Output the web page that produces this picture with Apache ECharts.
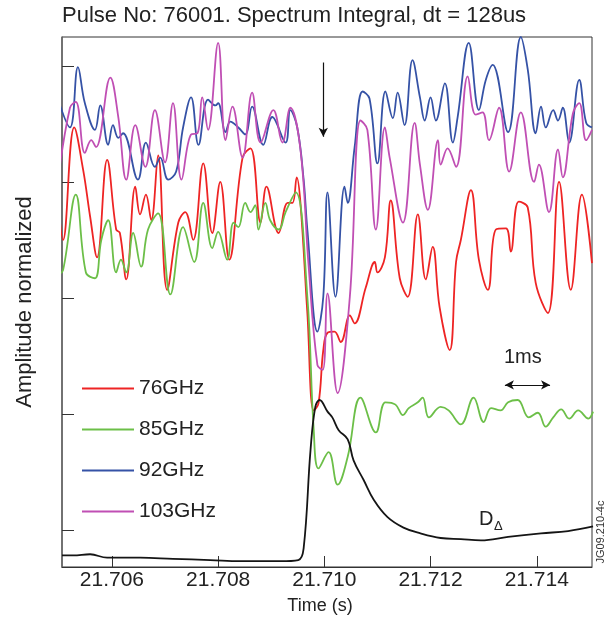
<!DOCTYPE html>
<html>
<head>
<meta charset="utf-8">
<script src="https://cdn.jsdelivr.net/npm/echarts@6/dist/echarts.min.js"></script>
<style>html,body{margin:0;padding:0;background:#fff}#c{width:611px;height:624px}</style>
</head>
<body>
<div id="c"></div>
<script>
// Time axis limits (s) and tick labels
const T0 = 21.70506;
const T1 = 21.71504;
const xTicks = [21.706, 21.708, 21.710, 21.712, 21.714];
const yTicks = [0, 1, 2, 3, 4];
const seriesNames = ['76GHz', '85GHz', '92GHz', '103GHz'];

// Each pair: [ms after T0, normalized amplitude]
const s76 = [[-0.08,2.91],[0.02,2.50],[0.23,3.47],[0.40,3.10],[0.53,2.70],[0.66,2.35],[0.85,3.19],[1.02,2.59],[1.09,2.56],[1.21,2.16],[1.38,2.96],[1.47,2.72],[1.58,2.89],[1.68,2.67],[1.81,3.23],[1.98,2.07],[2.19,2.65],[2.32,2.74],[2.47,2.50],[2.66,3.16],[2.83,2.56],[2.98,3.00],[3.15,2.33],[3.40,3.21],[3.55,3.29],[3.74,2.65],[3.85,2.96],[4.08,2.56],[4.25,2.82],[4.34,2.82],[4.42,3.04],[4.49,2.82],[4.62,1.87],[4.74,1.03],[4.83,1.09],[4.92,1.55],[5.00,1.70],[5.13,1.71],[5.25,1.62],[5.42,1.85],[5.51,1.78],[5.72,2.09],[5.89,2.31],[5.94,2.22],[6.08,2.35],[6.19,2.84],[6.36,2.17],[6.51,2.01],[6.70,2.72],[6.85,2.16],[6.98,2.44],[7.11,1.92],[7.30,1.55],[7.42,2.31],[7.51,2.50],[7.70,2.93],[7.85,2.33],[8.02,2.07],[8.17,2.59],[8.36,2.60],[8.45,2.40],[8.60,2.83],[8.77,2.78],[8.92,2.13],[9.15,1.87],[9.36,3.00],[9.58,2.07],[9.79,2.89],[9.98,2.30]];

const s85 = [[-0.08,2.20],[0.02,2.24],[0.26,2.89],[0.45,2.22],[0.62,2.17],[0.74,2.50],[0.87,2.67],[1.02,2.22],[1.11,2.33],[1.21,2.22],[1.34,2.56],[1.49,2.27],[1.62,2.59],[1.81,2.73],[2.04,2.03],[2.28,2.61],[2.49,2.31],[2.66,2.82],[2.83,2.43],[2.94,2.57],[3.11,2.33],[3.23,2.65],[3.32,2.61],[3.45,2.82],[3.55,2.74],[3.64,2.80],[3.70,2.59],[3.83,2.82],[3.92,2.67],[4.08,2.59],[4.21,2.74],[4.40,2.91],[4.62,2.01],[4.74,0.86],[4.83,0.53],[5.02,0.67],[5.19,0.39],[5.38,0.63],[5.62,1.14],[5.91,0.84],[6.09,1.10],[6.28,1.08],[6.42,0.99],[6.53,1.05],[6.70,1.10],[6.79,1.14],[6.91,0.97],[7.13,1.06],[7.28,1.03],[7.51,0.91],[7.75,1.14],[7.94,0.93],[8.08,1.05],[8.26,1.03],[8.40,1.10],[8.58,1.12],[8.79,0.97],[8.96,1.01],[9.11,0.89],[9.25,0.97],[9.40,1.04],[9.55,0.96],[9.72,1.03],[9.91,0.96],[10.00,1.02]];

const s92 = [[-0.08,3.72],[0.15,3.47],[0.30,3.99],[0.43,3.68],[0.62,3.45],[0.72,3.66],[0.87,3.32],[0.96,3.49],[1.06,3.38],[1.15,3.42],[1.43,3.02],[1.58,3.34],[1.75,3.13],[1.85,3.21],[2.00,3.02],[2.15,3.09],[2.28,3.47],[2.43,3.73],[2.57,3.32],[2.75,3.71],[2.89,3.66],[2.94,3.68],[3.08,3.43],[3.17,3.52],[3.32,3.47],[3.45,3.41],[3.58,3.65],[3.79,3.32],[3.96,3.56],[4.21,3.34],[4.30,3.62],[4.43,3.47],[4.55,3.02],[4.62,2.59],[4.81,1.71],[4.92,2.01],[5.00,2.91],[5.15,2.01],[5.32,2.96],[5.38,2.82],[5.51,3.30],[5.66,3.78],[5.79,3.72],[5.94,3.16],[6.09,3.78],[6.23,3.55],[6.32,3.77],[6.45,3.49],[6.60,4.05],[6.74,3.73],[6.83,3.53],[6.94,3.73],[7.04,3.53],[7.21,3.85],[7.36,3.34],[7.45,3.56],[7.66,4.20],[7.85,3.62],[7.98,3.88],[8.11,4.01],[8.40,3.43],[8.64,4.25],[8.77,3.97],[8.92,3.42],[9.02,3.65],[9.11,3.47],[9.25,3.62],[9.34,3.53],[9.43,3.64],[9.55,3.34],[9.74,3.88],[9.87,3.51],[9.98,3.47]];

const s103 = [[-0.08,3.00],[0.15,3.64],[0.26,3.69],[0.43,3.25],[0.55,3.36],[0.64,3.30],[0.91,3.90],[1.06,3.56],[1.21,3.02],[1.38,3.49],[1.57,3.13],[1.75,3.62],[1.94,3.17],[2.09,3.68],[2.25,3.02],[2.43,3.41],[2.55,3.42],[2.64,3.73],[2.75,3.45],[2.94,4.20],[3.08,3.36],[3.21,3.65],[3.40,3.21],[3.58,3.77],[3.74,3.34],[3.98,3.62],[4.15,3.34],[4.30,3.64],[4.49,3.28],[4.64,2.30],[4.81,1.42],[4.91,1.38],[5.00,2.04],[5.19,1.18],[5.42,2.01],[5.62,3.53],[5.75,3.45],[5.91,2.59],[6.08,3.47],[6.17,3.21],[6.42,2.65],[6.64,3.51],[6.74,3.15],[6.89,2.76],[7.08,3.36],[7.13,3.15],[7.26,3.29],[7.42,3.13],[7.64,3.91],[7.79,3.58],[7.92,3.60],[8.04,3.36],[8.23,3.64],[8.42,3.09],[8.64,3.60],[8.89,3.00],[8.98,3.15],[9.17,2.74],[9.34,3.28],[9.43,3.04],[9.62,3.59],[9.74,3.68],[9.87,3.36],[9.98,3.45]];

const sD = [[0.00,-0.22],[0.21,-0.22],[0.53,-0.21],[0.85,-0.24],[1.47,-0.24],[2.09,-0.25],[2.79,-0.26],[3.36,-0.27],[4.11,-0.27],[4.45,-0.26],[4.55,-0.16],[4.68,0.69],[4.77,1.06],[4.85,1.12],[5.00,1.02],[5.09,0.97],[5.21,0.86],[5.38,0.78],[5.49,0.60],[5.68,0.43],[5.87,0.26],[6.13,0.11],[6.43,0.02],[6.75,-0.03],[7.13,-0.07],[7.51,-0.08],[7.89,-0.09],[8.40,-0.06],[9.02,-0.03],[9.53,-0.01],[10.00,0.03]];

// Annotation arrows: [ms, amplitude]
const downArrow = [[4.92, 4.03], [4.92, 3.39]];
const msArrow = [[8.34, 1.25], [9.19, 1.25]];

const toPts = a => a.map(p => [T0 + p[0] / 1000, p[1]]);
const FONT = "'Liberation Sans', Arial, Helvetica, sans-serif";

const colors = ['#ee2424', '#6cbf48', '#3552a6', '#c04fb4'];
const datas = [s76, s85, s92, s103];

const series = datas.map((d, i) => ({
  name: seriesNames[i],
  type: 'line',
  data: toPts(d),
  showSymbol: false,
  symbol: 'none',
  smooth: 0.4,
  clip: false,
  lineStyle: { color: colors[i], width: 1.8 },
  itemStyle: { color: colors[i] },
  z: 3 + i,
  animation: false
}));
series.push({
  name: 'D',
  type: 'line',
  data: toPts(sD),
  showSymbol: false,
  symbol: 'none',
  smooth: 0.4,
  lineStyle: { color: '#151515', width: 1.8 },
  itemStyle: { color: '#151515' },
  z: 8,
  animation: false,
  markLine: {
    silent: true,
    animation: false,
    symbolSize: [7, 9],
    label: { show: false },
    lineStyle: { color: '#111', width: 1.2, type: 'solid' },
    data: [
      [{ coord: toPts(downArrow)[0], symbol: 'none' }, { coord: toPts(downArrow)[1], symbol: 'arrow' }],
      [{ coord: toPts(msArrow)[0], symbol: 'arrow' }, { coord: toPts(msArrow)[1], symbol: 'arrow' }]
    ]
  }
});

const chart = echarts.init(document.getElementById('c'), null, { renderer: 'canvas' });
chart.setOption({
  backgroundColor: '#fff',
  animation: false,
  title: {
    text: 'Pulse No: 76001. Spectrum Integral, dt = 128us',
    left: 62, top: 5, padding: 0,
    textStyle: { fontFamily: FONT, fontSize: 22, fontWeight: 'normal', color: '#222' }
  },
  legend: {
    data: seriesNames,
    orient: 'vertical',
    left: 81, top: 378, padding: 0,
    itemWidth: 52, itemHeight: 21, itemGap: 20,
    itemStyle: { opacity: 0 },
    lineStyle: { width: 2 },
    textStyle: { fontFamily: FONT, fontSize: 21, color: '#222' },
    selectedMode: false
  },
  grid: { left: 62, right: 19, top: 37, bottom: 57, show: true, borderColor: '#333', borderWidth: 1 },
  xAxis: {
    type: 'value', min: T0, max: T1,
    name: 'Time (s)', nameLocation: 'middle', nameGap: 30,
    nameTextStyle: { fontFamily: FONT, fontSize: 18, color: '#222', padding: [0, 14, 0, 0] },
    axisLine: { show: true, onZero: false, lineStyle: { color: '#333', width: 1 } },
    axisTick: { show: true, inside: true, length: 11, customValues: xTicks, lineStyle: { color: '#333' } },
    axisLabel: { customValues: xTicks, formatter: v => v.toFixed(3), margin: 3, fontFamily: FONT, fontSize: 21, color: '#222' },
    splitLine: { show: false }
  },
  yAxis: {
    type: 'value', min: -0.32, max: 4.25,
    name: 'Amplitude normalized', nameLocation: 'middle', nameGap: 26,
    nameTextStyle: { fontFamily: FONT, fontSize: 22, color: '#222' },
    axisLine: { show: true, onZero: false, lineStyle: { color: '#666', width: 1.5 } },
    axisTick: { show: true, inside: true, length: 12, customValues: yTicks, lineStyle: { color: '#333' } },
    axisLabel: { show: false },
    splitLine: { show: false }
  },
  graphic: [
    { type: 'text', left: 504, top: 347, style: { text: '1ms', fontFamily: FONT, fontSize: 20, fill: '#222' } },
    { type: 'text', left: 479, top: 509, style: { text: 'D', fontFamily: FONT, fontSize: 20, fill: '#222' } },
    { type: 'text', left: 494, top: 520, style: { text: 'Δ', fontFamily: FONT, fontSize: 13, fill: '#222' } },
    { type: 'text', x: 601, y: 532, rotation: Math.PI / 2, style: { text: 'JG09.210-4c', fontFamily: FONT, fontSize: 11, fill: '#333', align: 'center', verticalAlign: 'middle' } }
  ],
  series: series
});
</script>
</body>
</html>
